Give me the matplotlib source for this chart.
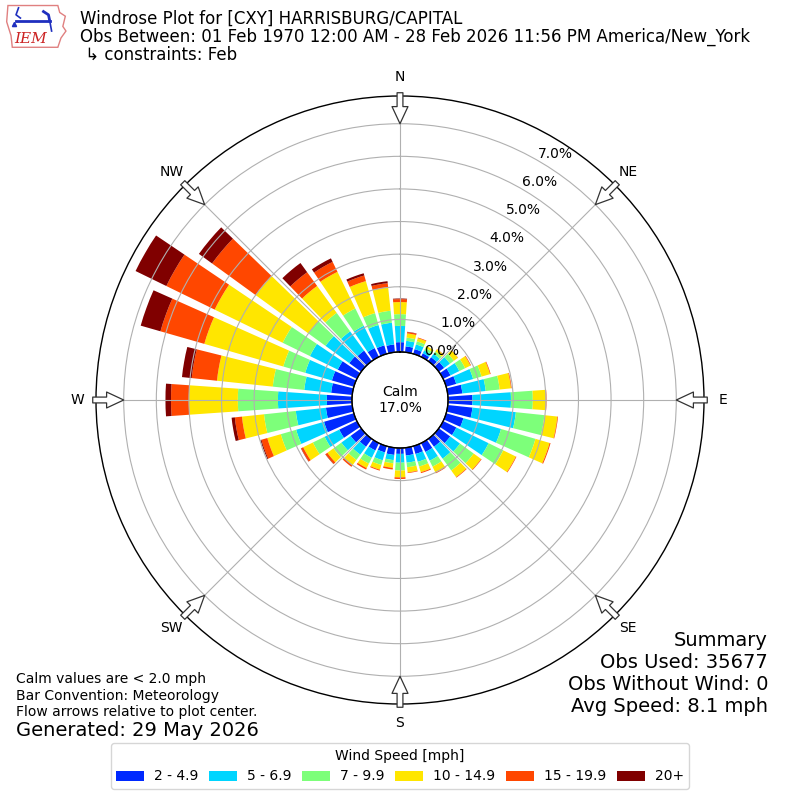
import numpy as np
import matplotlib
matplotlib.use("Agg")
import matplotlib.pyplot as plt
from matplotlib.patches import Patch, Polygon

# ---------------- data (percent of observations) ----------------
directions = [10, 20, 30, 40, 50, 60, 70, 80, 90, 100, 110, 120, 130, 140, 150, 160, 170, 180,
              190, 200, 210, 220, 230, 240, 250, 260, 270, 280, 290, 300, 310, 320, 330, 340, 350, 360]
speed_labels = ["2 - 4.9", "5 - 6.9", "7 - 9.9", "10 - 14.9", "15 - 19.9", "20+"]

s_2_5 = [0.18, 0.15, 0.12, 0.15, 0.20, 0.25, 0.32, 0.45, 0.75, 0.76, 0.55, 0.45, 0.43, 0.30, 0.30, 0.25, 0.24, 0.18,
         0.22, 0.20, 0.25, 0.30, 0.40, 0.60, 0.95, 0.81, 0.77, 0.65, 0.70, 0.65, 0.45, 0.40, 0.30, 0.27, 0.24, 0.30]
s_5_7 = [0.17, 0.15, 0.10, 0.13, 0.22, 0.30, 0.54, 0.72, 1.18, 1.34, 1.20, 1.10, 0.37, 0.45, 0.30, 0.25, 0.22, 0.27,
         0.16, 0.25, 0.25, 0.30, 0.35, 0.50, 0.89, 0.93, 1.50, 0.83, 0.85, 0.95, 0.90, 0.73, 0.76, 0.65, 0.67, 0.50]
s_7_10 = [0.10, 0.10, 0.08, 0.09, 0.15, 0.20, 0.27, 0.43, 0.67, 0.88, 1.10, 0.50, 0.52, 0.45, 0.20, 0.15, 0.14, 0.24,
          0.10, 0.15, 0.20, 0.20, 0.30, 0.40, 0.49, 0.98, 1.23, 0.97, 0.70, 0.93, 0.65, 0.70, 0.59, 0.38, 0.37, 0.36]
s_10_15 = [0.13, 0.10, 0.07, 0.08, 0.15, 0.18, 0.27, 0.35, 0.40, 0.40, 0.45, 0.43, 0.28, 0.25, 0.20, 0.18, 0.16, 0.21,
           0.14, 0.15, 0.15, 0.20, 0.23, 0.33, 0.43, 0.68, 1.50, 1.72, 2.52, 2.32, 2.00, 1.02, 1.25, 1.02, 0.72, 0.37]
s_15_20 = [0.04, 0.02, 0.00, 0.01, 0.01, 0.02, 0.02, 0.02, 0.02, 0.02, 0.03, 0.02, 0.02, 0.02, 0.03, 0.03, 0.02, 0.05,
           0.05, 0.03, 0.05, 0.06, 0.07, 0.07, 0.19, 0.22, 0.55, 0.78, 1.40, 1.65, 1.65, 0.52, 0.34, 0.18, 0.13, 0.09]
s_20p = [0.01, 0.00, 0.00, 0.00, 0.00, 0.00, 0.00, 0.00, 0.00, 0.00, 0.00, 0.00, 0.00, 0.00, 0.00, 0.00, 0.00, 0.00,
         0.00, 0.00, 0.00, 0.00, 0.01, 0.01, 0.03, 0.10, 0.17, 0.30, 0.63, 1.05, 0.50, 0.35, 0.12, 0.07, 0.06, 0.02]

calm_pct = 17.0
radial_ticks = [0, 1, 2, 3, 4, 5, 6, 7]
compass_labels = ["N", "NE", "E", "SE", "S", "SW", "W", "NW"]
compass_angles = [0, 45, 90, 135, 180, 225, 270, 315]

series = [s_2_5, s_5_7, s_7_10, s_10_15, s_15_20, s_20p]
colors = plt.cm.jet(np.linspace(0, 1, 7)[1:])

# ---------------- figure ----------------
fig = plt.figure(figsize=(8, 8), dpi=100)
ax = fig.add_axes([0.12, 0.12, 0.76, 0.76], projection="polar")
ax.set_theta_zero_location("N")
ax.set_theta_direction(-1)

rmax = 7.85
ax.set_rorigin(-1.473)
ax.set_ylim(0, rmax)

theta = np.deg2rad(directions)
width = np.deg2rad(8.0)
bottom = np.zeros(len(directions))
for vals, col in zip(series, colors):
    v = np.array(vals)
    ax.bar(theta, v, width=width, bottom=bottom, color=col, edgecolor="none", zorder=1)
    bottom = bottom + v

# calm circle
tt = np.linspace(0, 2 * np.pi, 361)
ax.plot(tt, np.zeros_like(tt), color="black", lw=1.0, zorder=3, clip_on=False)
ax.text(0, -1.473, f"Calm\n{calm_pct:.1f}%", ha="center", va="center", fontsize=10, zorder=5)

# grid
ax.set_yticks(radial_ticks)
ax.set_yticklabels([])
ax.set_xticks(np.deg2rad(compass_angles))
ax.set_xticklabels([])
ax.grid(True, color="#b0b0b0", lw=0.8)
ax.spines["polar"].set_color("black")
ax.spines["polar"].set_linewidth(1.0)

for r in radial_ticks:
    ax.text(np.deg2rad(30), r, f"{r:.1f}%", ha="left", va="bottom", fontsize=10, zorder=6)

for ang, lab in zip(compass_angles, compass_labels):
    ax.text(np.deg2rad(ang), 8.43, lab, ha="center", va="center", fontsize=10, clip_on=False)
    ax.annotate("", xy=(np.deg2rad(ang), 7.0), xytext=(np.deg2rad(ang), 7.95),
                arrowprops=dict(arrowstyle="simple,head_length=0.88,head_width=0.82,tail_width=0.3",
                                fc="white", ec="#333333", lw=0.9, shrinkA=0, shrinkB=0,
                                mutation_scale=14),
                annotation_clip=False, zorder=7)

# ---------------- texts ----------------
fig.text(0.1, 1 - 19 / 800, "Windrose Plot for [CXY] HARRISBURG/CAPITAL", fontsize=12, va="center")
fig.text(0.1, 1 - 37 / 800, "Obs Between: 01 Feb 1970 12:00 AM - 28 Feb 2026 11:56 PM America/New_York",
         fontsize=12, va="center")
fig.text(0.1, 1 - 55 / 800, " \u21b3 constraints: Feb", fontsize=12, va="center")

fig.text(0.02, 1 - 679 / 800, "Calm values are < 2.0 mph", fontsize=10, va="center")
fig.text(0.02, 1 - 696 / 800, "Bar Convention: Meteorology", fontsize=10, va="center")
fig.text(0.02, 1 - 712 / 800, "Flow arrows relative to plot center.", fontsize=10, va="center")
fig.text(0.02, 1 - 730 / 800, "Generated: 29 May 2026", fontsize=14, va="center")

for y, s in zip([640, 662, 684, 706], ["Summary", "Obs Used: 35677", "Obs Without Wind: 0", "Avg Speed: 8.1 mph"]):
    fig.text(0.96, 1 - y / 800, s, fontsize=14, ha="right", va="center")

handles = [Patch(facecolor=c, edgecolor="none") for c in colors]
fig.legend(handles, speed_labels, loc="lower center", bbox_to_anchor=(0.5, 0.005), ncol=6,
           title="Wind Speed [mph]", fontsize=10, title_fontsize=10,
           columnspacing=0.8, handletextpad=0.7)

# ---------------- logo ----------------
lax = fig.add_axes([0.006, 0.938, 0.078, 0.058])
lax.set_xlim(0, 1)
lax.set_ylim(0, 1)
lax.axis("off")
outline = [(0.05, 0.95), (0.85, 0.95), (0.88, 0.8), (0.97, 0.72), (0.93, 0.5), (0.98, 0.4),
           (0.9, 0.25), (0.85, 0.05), (0.12, 0.05), (0.1, 0.3), (0.03, 0.6)]
lax.add_patch(Polygon(outline, closed=True, fc="none", ec="#e08080", lw=1.0))
lax.plot([0.18, 0.72], [0.62, 0.62], color="#1f2fbf", lw=2)
lax.plot([0.22, 0.18, 0.25], [0.9, 0.75, 0.68], color="#1f2fbf", lw=1.2)
lax.plot([0.62, 0.7, 0.72], [0.82, 0.75, 0.62], color="#1f2fbf", lw=2)
lax.plot([0.72, 0.75], [0.62, 0.4], color="#1f2fbf", lw=1.2)
lax.plot([0.15], [0.55], marker="^", color="#1f2fbf", ms=3)
lax.text(0.42, 0.22, "IEM", color="#cc2222", fontsize=11, ha="center", va="center",
         family="DejaVu Serif", style="italic")

fig.savefig("out.png", dpi=100)
